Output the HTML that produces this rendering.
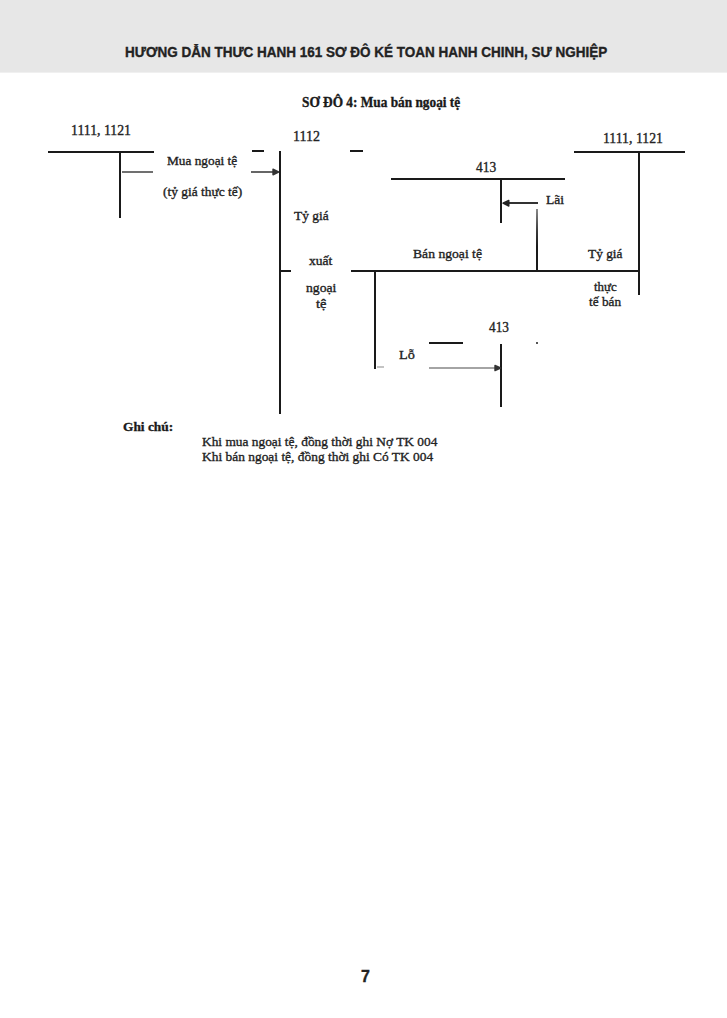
<!DOCTYPE html>
<html><head><meta charset="utf-8">
<style>
html,body{margin:0;padding:0;background:#fff;}
body{width:727px;height:1018px;position:relative;overflow:hidden;font-family:"Liberation Sans",sans-serif;}
.hdr{position:absolute;left:0;top:0;width:727px;height:72px;background:#e7e7e7;border-bottom:1px solid #f0f0f0;}
.t{position:absolute;white-space:nowrap;transform-origin:left top;line-height:1;-webkit-text-stroke:0.35px currentColor;}
.m{display:inline-block;width:0;height:0;vertical-align:baseline;}
.b{position:absolute;background:#1a1a1a;}
.wrap{position:absolute;left:0;top:0;width:727px;height:1018px;}
.g{position:absolute;background:#777;}
</style></head>
<body>
<div class="hdr"></div>
<div class="wrap">

<!-- left T 1111,1121 -->
<div class="b" style="left:48px;top:151px;width:106px;height:2px;"></div>
<div class="b" style="left:119px;top:151px;width:2px;height:67px;"></div>
<div class="g" style="left:122px;top:171px;width:31px;height:2px;background:#707070;"></div>
<!-- arrow into 1112 -->
<div class="g" style="left:251px;top:171px;width:23px;height:2px;background:#666;"></div>
<svg style="position:absolute;left:270px;top:167px" width="10" height="10"><path d="M3 2.2 L8.6 5 L3 7.8 Z" fill="#333" stroke="#333" stroke-width="1.4" stroke-linejoin="round"/></svg>
<div class="b" style="left:252px;top:150px;width:12px;height:2px;"></div>
<div class="b" style="left:350px;top:150px;width:13px;height:2px;"></div>
<!-- 1112 -->
<div class="b" style="left:279px;top:151px;width:2px;height:263px;"></div>
<div class="b" style="left:279px;top:270px;width:12px;height:2px;"></div>
<!-- sell line -->
<div class="b" style="left:351px;top:270px;width:289px;height:2px;"></div>
<div class="b" style="left:374px;top:270px;width:2px;height:99px;"></div>
<div class="g" style="left:377px;top:366px;width:7px;height:2px;background:#c4c4c4;"></div>
<!-- 413 top -->
<div class="b" style="left:391px;top:178px;width:174px;height:2px;"></div>
<div class="b" style="left:500px;top:178px;width:2px;height:45px;"></div>
<div class="b" style="left:536px;top:209px;width:2px;height:63px;background:linear-gradient(#8a8a8a,#3a3a3a 35%,#1a1a1a 60%);"></div>
<div class="g" style="left:508px;top:202px;width:30px;height:2px;background:#333;"></div>
<svg style="position:absolute;left:501px;top:198px" width="10" height="10"><path d="M2 5.2 L7.8 2.4 L7.8 8 Z" fill="#222" stroke="#222" stroke-width="1.4" stroke-linejoin="round"/></svg>
<!-- right T -->
<div class="b" style="left:574px;top:151px;width:111px;height:2px;"></div>
<div class="b" style="left:638px;top:151px;width:2px;height:144px;"></div>
<!-- 413 bottom -->
<div class="b" style="left:429px;top:342px;width:34px;height:2px;"></div>
<div class="b" style="left:500px;top:344px;width:2px;height:63px;"></div>
<div class="g" style="left:429px;top:366.5px;width:66px;height:2px;background:#a4a4a4;"></div>
<svg style="position:absolute;left:492px;top:363px" width="10" height="10"><path d="M3 2.4 L8.6 5 L3 7.6 Z" fill="#333" stroke="#333" stroke-width="1.4" stroke-linejoin="round"/></svg>
<div class="b" style="left:536px;top:342px;width:2px;height:2px;background:#555;"></div>

<div class="t" id="ht" style="left:124.82px;top:45.31px;font-size:14.5px;font-weight:bold;font-family:'Liberation Sans',sans-serif;color:#222;transform:scaleX(0.9305);">HƯƠNG DẪN THƯC HANH 161 SƠ ĐÔ KÉ TOAN HANH CHINH, SƯ NGHIỆP</div>
<div class="t" id="title" style="left:301.61px;top:96.30px;font-size:14px;font-weight:bold;font-family:'Liberation Serif',serif;color:#1a1a1a;transform:scaleX(0.9503);">SƠ ĐÔ 4: Mua bán ngoại tệ</div>
<div class="t" id="l1" style="left:71.45px;top:123.41px;font-size:14.5px;font-weight:normal;font-family:'Liberation Serif',serif;color:#222;transform:scaleX(0.9501);">1111, 1121</div>
<div class="t" id="mua" style="left:166.99px;top:153.71px;font-size:13px;font-weight:normal;font-family:'Liberation Serif',serif;color:#222;transform:scaleX(1.0236);">Mua ngoại tệ</div>
<div class="t" id="tygia1" style="left:163.40px;top:184.50px;font-size:13px;font-weight:normal;font-family:'Liberation Serif',serif;color:#222;transform:scaleX(1.0313);">(tỷ giá thực tế)</div>
<div class="t" id="n1112" style="left:293.44px;top:128.81px;font-size:14.5px;font-weight:normal;font-family:'Liberation Serif',serif;color:#222;transform:scaleX(0.9658);">1112</div>
<div class="t" id="tygia2" style="left:293.81px;top:209.20px;font-size:13.5px;font-weight:normal;font-family:'Liberation Serif',serif;color:#222;transform:scaleX(0.9945);">Tỷ giá</div>
<div class="t" id="xuat" style="left:309.21px;top:254.21px;font-size:13px;font-weight:normal;font-family:'Liberation Serif',serif;color:#222;transform:scaleX(1.0416);">xuất</div>
<div class="t" id="ngoai" style="left:305.98px;top:281.40px;font-size:13px;font-weight:normal;font-family:'Liberation Serif',serif;color:#222;transform:scaleX(1.0513);">ngoại</div>
<div class="t" id="te" style="left:315.59px;top:297.00px;font-size:13px;font-weight:normal;font-family:'Liberation Serif',serif;color:#222;transform:scaleX(1.1111);">tệ</div>
<div class="t" id="ban" style="left:412.75px;top:246.50px;font-size:13px;font-weight:normal;font-family:'Liberation Serif',serif;color:#222;transform:scaleX(1.0493);">Bán ngoại tệ</div>
<div class="t" id="n413a" style="left:476.40px;top:159.70px;font-size:14.5px;font-weight:normal;font-family:'Liberation Serif',serif;color:#222;transform:scaleX(0.9285);">413</div>
<div class="t" id="lai" style="left:546.17px;top:192.71px;font-size:13px;font-weight:normal;font-family:'Liberation Serif',serif;color:#222;transform:scaleX(1.0413);">Lãi</div>
<div class="t" id="r1" style="left:603.27px;top:130.51px;font-size:14.5px;font-weight:normal;font-family:'Liberation Serif',serif;color:#222;transform:scaleX(0.9493);">1111, 1121</div>
<div class="t" id="tygia3" style="left:588.19px;top:247.40px;font-size:13px;font-weight:normal;font-family:'Liberation Serif',serif;color:#222;transform:scaleX(1.0247);">Tỷ giá</div>
<div class="t" id="thuc" style="left:594.21px;top:279.61px;font-size:13px;font-weight:normal;font-family:'Liberation Serif',serif;color:#222;transform:scaleX(0.9962);">thực</div>
<div class="t" id="teban" style="left:589.18px;top:295.11px;font-size:13px;font-weight:normal;font-family:'Liberation Serif',serif;color:#222;transform:scaleX(1.0199);">tế bán</div>
<div class="t" id="n413b" style="left:489.15px;top:320.01px;font-size:14.5px;font-weight:normal;font-family:'Liberation Serif',serif;color:#222;transform:scaleX(0.9145);">413</div>
<div class="t" id="lo" style="left:398.59px;top:347.81px;font-size:13px;font-weight:normal;font-family:'Liberation Serif',serif;color:#222;transform:scaleX(1.0959);">Lỗ</div>
<div class="t" id="ghichu" style="left:122.59px;top:419.51px;font-size:13.5px;font-weight:bold;font-family:'Liberation Serif',serif;color:#1a1a1a;transform:scaleX(0.9901);">Ghi chú:</div>
<div class="t" id="k1" style="left:202.00px;top:434.82px;font-size:13.5px;font-weight:normal;font-family:'Liberation Serif',serif;color:#222;transform:scaleX(0.9911);">Khi mua ngoại tệ, đồng thời ghi Nợ TK 004</div>
<div class="t" id="k2" style="left:202.00px;top:450.01px;font-size:13.5px;font-weight:normal;font-family:'Liberation Serif',serif;color:#222;transform:scaleX(0.9940);">Khi bán ngoại tệ, đồng thời ghi Có TK 004</div>
<div class="t" id="pg" style="left:360.61px;top:968.30px;font-size:16.5px;font-weight:bold;font-family:'Liberation Sans',sans-serif;color:#222;transform:scaleX(0.9670);">7</div>
</div>
</body></html>
